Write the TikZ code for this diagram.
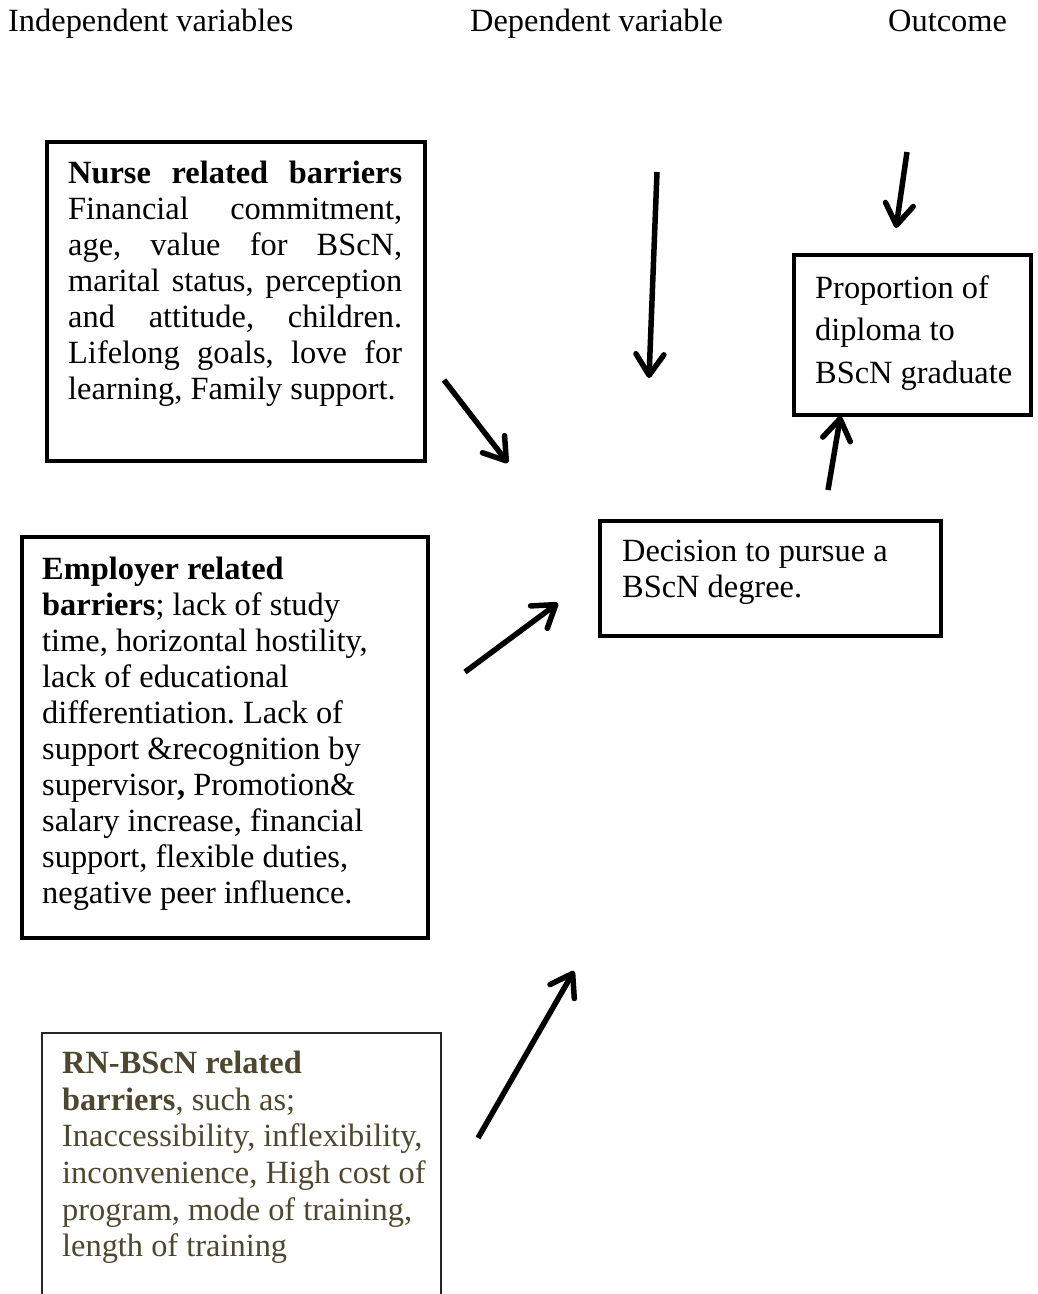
\documentclass[tikz,border=0pt]{standalone}
\usepackage{fontspec}
\setmainfont{Liberation Serif}
\usetikzlibrary{arrows.meta,calc}
\definecolor{olive}{RGB}{78,71,47}
\newcommand{\normsp}{\frenchspacing\spaceskip=0pt\relax\xspaceskip=0pt\relax}
\newcommand{\jline}[1]{\makebox[334pt][s]{\normsp #1}}
\begin{document}
\begin{tikzpicture}[x=1pt,y=-1pt,
  box/.style={draw=black,line width=4pt,rectangle,inner sep=0pt},
  thinbox/.style={draw=black!85,line width=2pt,rectangle,inner sep=0pt},
  txt/.style={inner sep=0pt,anchor=north west,align=left,font=\fontsize{32.4}{36}\selectfont},
  hdr/.style={inner sep=0pt,anchor=base west,font=\fontsize{32.4}{36}\selectfont},
  arr/.style={line width=5.5pt,-{Straight Barb[length=21pt,width=28pt,line cap=round,line join=round]}}]
\useasboundingbox (0,0) rectangle (1037,1294);
\fill[white] (0,0) rectangle (1037,1294);

% headers
\node[hdr] (h1) at (8,31) {\normsp Independent variables};
\node[hdr] (h2) at (470,31) {\normsp Dependent variable};
\node[hdr] (h3) at (888,31) {Outcome};

% boxes
\node[box,minimum width=378pt,minimum height=319pt] (nurse) at (236,301.5) {};
\node[box,minimum width=406pt,minimum height=401pt] (empl) at (225,737.5) {};
\node[thinbox,minimum width=399pt,minimum height=277pt] (rn) at (241.5,1171.5) {};
\node[box,minimum width=341pt,minimum height=115pt] (dec) at (770.5,578.5) {};
\node[box,minimum width=237pt,minimum height=160pt] (prop) at (912.5,335) {};

% texts
\node[txt,text width=340pt] (nursetxt) at (68,161) {\normsp
\jline{\textbf{Nurse related barriers}}\\
\jline{Financial commitment,}\\
\jline{age, value for BScN,}\\
\jline{marital status, perception}\\
\jline{and attitude, children.}\\
\jline{Lifelong goals, love for}\\
learning, Family support.};

\node[txt,text width=420pt] (empltxt) at (42,557) {\normsp
\textbf{Employer related}\\
\textbf{barriers}; lack of study\\
time, horizontal hostility,\\
lack of educational\\
differentiation. Lack of\\
support \&recognition by\\
supervisor\textbf{,} Promotion\&\\
salary increase, financial\\
support, flexible duties,\\
negative peer influence.};

\node[txt,text width=420pt,text=olive,font=\fontsize{32.4}{36.6}\selectfont] (rntxt) at (62,1051) {\normsp
\textbf{RN-BScN related}\\
\textbf{barriers}, such as;\\
Inaccessibility, inflexibility,\\
inconvenience, High cost of\\
program, mode of training,\\
length of training};

\node[txt,text width=330pt] (dectxt) at (622,540) {\normsp
Decision to pursue a\\
BScN degree.};

\node[txt,text width=230pt,font=\fontsize{32.4}{42.5}\selectfont] (proptxt) at (815,275) {\normsp
Proportion of\\
diploma to\\
BScN graduate};

% arrow ends
\coordinate (a1s) at (444,380); \coordinate (a1e) at (508,463);
\coordinate (a2s) at (465,672); \coordinate (a2e) at (558,603);
\coordinate (a3s) at (478,1138); \coordinate (a3e) at (574,971);
\coordinate (a4s) at (657,172); \coordinate (a4e) at (649,378);
\coordinate (a5s) at (907,152); \coordinate (a5e) at (896,228);
\coordinate (a6s) at (828,490);

\draw[arr] (a1s) -- (a1e);
\draw[arr] (a2s) -- (a2e);
\draw[arr] (a3s) -- (a3e);
\draw[arr] (a4s) -- (a4e);
\draw[arr] (a5s) -- (a5e);
\draw[arr] (a6s) -- ($(prop.south)+(-72,-1)$);
\end{tikzpicture}
\end{document}
